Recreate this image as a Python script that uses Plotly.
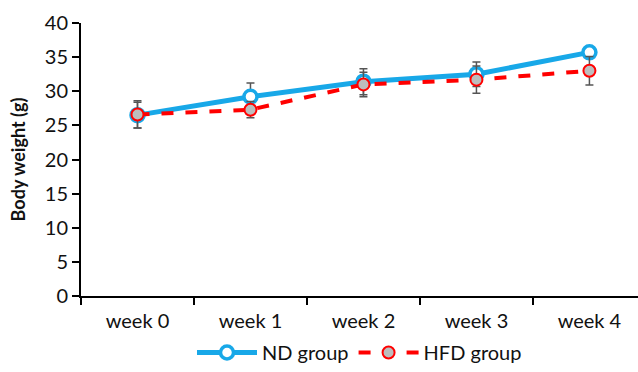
import plotly.graph_objects as go

weeks = ["week 0", "week 1", "week 2", "week 3", "week 4"]
nd_mean = [26.5, 29.2, 31.4, 32.5, 35.7]
nd_err = [1.9, 2.0, 1.9, 1.8, 0.8]
hfd_mean = [26.6, 27.3, 31.0, 31.7, 33.0]
hfd_err = [2.0, 1.2, 1.8, 2.0, 2.1]

FONT = "Lato"
FS = 20

fig = go.Figure()
fig.add_trace(go.Scatter(
    x=weeks, y=nd_mean, name="ND group", mode="lines+markers",
    line=dict(color="#18A8E8", width=5),
    marker=dict(symbol="circle", size=13, color="white",
                line=dict(color="#18A8E8", width=3.5)),
    error_y=dict(type="data", array=nd_err, color="#555555", thickness=1.5, width=4),
))
fig.add_trace(go.Scatter(
    x=weeks, y=hfd_mean, name="HFD group", mode="lines+markers",
    line=dict(color="#FF0000", width=4, dash="dash"),
    marker=dict(symbol="circle", size=12, color="#BDBDBD",
                line=dict(color="#FF0000", width=2)),
    error_y=dict(type="data", array=hfd_err, color="#555555", thickness=1.5, width=4),
))

fig.update_layout(
    width=638, height=372,
    margin=dict(l=81, r=0, t=23, b=76, autoexpand=False),
    paper_bgcolor="white", plot_bgcolor="white",
    font=dict(family=FONT, size=FS, color="#111111"),
    showlegend=True,
    legend=dict(orientation="h", x=0.5, xanchor="center", xref="paper",
                y=-0.016, yref="container", yanchor="bottom",
                font=dict(family=FONT, size=FS, color="#111111"), itemwidth=60,
                tracegroupgap=0),
)
fig.update_xaxes(
    type="category", range=[-0.5, 4.43], tickson="boundaries", automargin=False,
    showline=True, linecolor="black", linewidth=2,
    ticks="outside", ticklen=7, tickwidth=1.5, tickcolor="black",
    showgrid=False, zeroline=False, ticklabelstandoff=6,
    tickfont=dict(family=FONT, size=FS, color="#111111"),
)
fig.update_yaxes(
    range=[0, 40], dtick=5, tick0=0, automargin=False,
    showline=True, linecolor="black", linewidth=2,
    ticks="outside", ticklen=7, tickwidth=1.5, tickcolor="black",
    showgrid=False, zeroline=False,
    tickfont=dict(family=FONT, size=FS, color="#111111"),
    title=dict(text="<b>Body weight (g)</b>", font=dict(family=FONT, size=18, color="#111111"),
               standoff=14),
)

fig.write_html("out.html")
